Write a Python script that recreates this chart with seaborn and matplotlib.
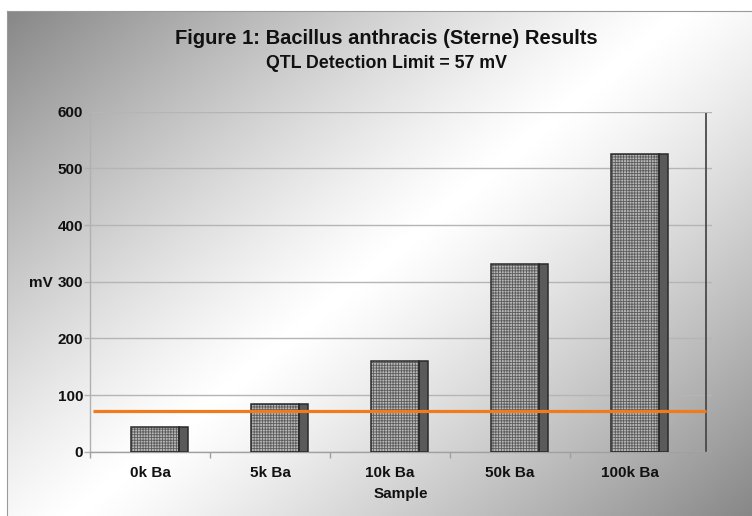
import numpy as np
import pandas as pd
import matplotlib
matplotlib.use("Agg")
import matplotlib.pyplot as plt
import seaborn as sns
from matplotlib.patches import Rectangle

# ---- data ----
categories = ["0k Ba", "5k Ba", "10k Ba", "50k Ba", "100k Ba"]
values_mv = [44, 84, 160, 332, 525]
detection_line_mv = 72
y_ticks = [0, 100, 200, 300, 400, 500, 600]
title_text = "Figure 1: Bacillus anthracis (Sterne) Results"
subtitle_text = "QTL Detection Limit = 57 mV"
x_label = "Sample"
y_label = "mV"

sns.set_theme(style="white")
plt.rcParams['font.family'] = ['Liberation Sans', 'DejaVu Sans']
plt.rcParams['hatch.linewidth'] = 0.6

W, H = 752, 516
fig = plt.figure(figsize=(W / 100, H / 100), dpi=100)
fig.patch.set_facecolor("white")

# ---- gradient background panel ----
bg = fig.add_axes([7 / W, 0, 1 - 7 / W, 1 - 11 / H], zorder=-10)
nx, ny = 400, 300
X, Y = np.meshgrid(np.linspace(0, 1, nx), np.linspace(0, 1, ny))
t = 0.55 * X + 0.45 * Y
d = np.abs(t - 0.5) / 0.5
v = 1 - 0.47 * d ** 1.2
bg.imshow(v, cmap="gray", vmin=0, vmax=1, extent=[0, 1, 1, 0], aspect="auto",
          interpolation="bilinear")
bg.set_xlim(0, 1)
bg.set_ylim(1, 0)
bg.set_xticks([])
bg.set_yticks([])
for side, s in bg.spines.items():
    if side in ("top", "left"):
        s.set_color("#9a9a9a")
        s.set_linewidth(0.8)
    else:
        s.set_visible(False)

# ---- main axes ----
ax = fig.add_axes([90 / W, 1 - 451.7 / H, 622 / W, 340 / H])
ax.patch.set_alpha(0)

df = pd.DataFrame({"Sample": categories, "mV": values_mv})
sns.barplot(data=df, x="Sample", y="mV", ax=ax, width=0.4, color="#b8b8b8",
            edgecolor="#5c5c5c", linewidth=0, hatch="++++++", zorder=3,
            saturation=1)

depth = 0.075
shift = 0.042
for p in list(ax.patches):
    p.set_x(p.get_x() + shift)
    x0, w, h = p.get_x(), p.get_width(), p.get_height()
    ax.add_patch(Rectangle((x0, 0), w, h, facecolor="none", edgecolor="#2a2a2a",
                           linewidth=1.1, zorder=4))
    ax.add_patch(Rectangle((x0 + w, 0), depth, h, facecolor="#5a5a5a",
                           edgecolor="#2a2a2a", linewidth=1.1, zorder=3))

# detection limit line
ax.hlines(detection_line_mv, -0.5 + 0.025, 4.633, color="#f07a1c", linewidth=2.3,
          zorder=6)
# back wall edge
ax.vlines(4.633, 0, 597, color="#4a4a4a", linewidth=1.3, zorder=2)

ax.set_xlim(-0.5, 4.683)
ax.set_ylim(0, 600)
ax.set_yticks(y_ticks)
ax.set_yticklabels([str(v) for v in y_ticks], fontsize=11, fontweight="bold",
                   color="#111111")
ax.yaxis.grid(True, color="#b5b5b5", linewidth=1.0, zorder=0)
ax.set_axisbelow(True)

ax.set_xticks(range(len(categories)))
ax.set_xticklabels(categories, fontsize=11, fontweight="bold", color="#111111")
ax.set_xticks(np.arange(-0.5, len(categories), 1.0), minor=True)
ax.tick_params(axis="x", which="major", length=0, pad=10)
ax.tick_params(axis="x", which="minor", length=4, width=1, color="#a0a0a0",
               direction="out", bottom=True)
ax.tick_params(axis="y", which="major", length=4, width=1, color="#b0b0b0",
               direction="out", left=True, pad=1)

ax.set_xlabel(x_label, fontsize=11, fontweight="bold", color="#111111", labelpad=5.5)
ax.set_ylabel("")

for side in ("top", "right"):
    ax.spines[side].set_visible(False)
ax.spines["left"].set_color("#b0b0b0")
ax.spines["bottom"].set_color("#a0a0a0")
ax.spines["left"].set_linewidth(1)
ax.spines["bottom"].set_linewidth(1)

fig.text(41 / W, 1 - 283 / H, y_label, ha="center", va="center", fontsize=11,
         fontweight="bold", color="#111111")
fig.text(386 / W, 1 - 39 / H, title_text, ha="center", va="center", fontsize=14.5,
         fontweight="bold", color="#111111")
fig.text(386 / W, 1 - 63 / H, subtitle_text, ha="center", va="center", fontsize=12.8,
         fontweight="bold", color="#111111")

fig.savefig("out.png", dpi=100)
